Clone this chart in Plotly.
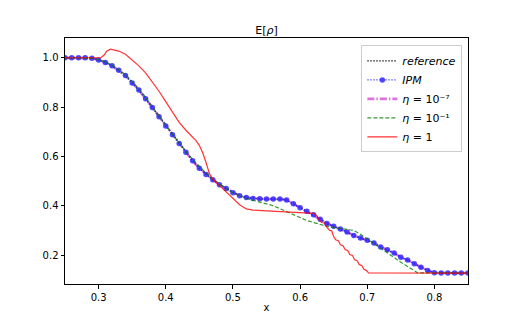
import plotly.graph_objects as go

# grid shared by reference / IPM / eta=1e-7 (one marker every 0.01)
x_grid = [0.25, 0.26, 0.27, 0.28, 0.29, 0.30, 0.31, 0.32, 0.33, 0.34,
          0.35, 0.36, 0.37, 0.38, 0.39, 0.40, 0.41, 0.42, 0.43, 0.44,
          0.45, 0.46, 0.47, 0.48, 0.49, 0.50, 0.51, 0.52, 0.53, 0.54,
          0.55, 0.56, 0.57, 0.58, 0.59, 0.60, 0.61, 0.62, 0.63, 0.64,
          0.65, 0.66, 0.67, 0.68, 0.69, 0.70, 0.71, 0.72, 0.73, 0.74,
          0.75, 0.76, 0.77, 0.78, 0.79, 0.80, 0.81, 0.82, 0.83, 0.84, 0.85]

rho_ipm = [1.0, 1.0, 1.0, 1.0, 0.998, 0.991, 0.981, 0.967, 0.949, 0.928,
           0.898, 0.869, 0.834, 0.798, 0.761, 0.723, 0.688, 0.652, 0.617, 0.582,
           0.552, 0.527, 0.505, 0.485, 0.470, 0.453, 0.440, 0.433, 0.429, 0.428,
           0.427, 0.427, 0.427, 0.423, 0.408, 0.392, 0.378, 0.363, 0.345, 0.328,
           0.317, 0.306, 0.293, 0.279, 0.269, 0.260, 0.249, 0.233, 0.221, 0.208,
           0.191, 0.180, 0.165, 0.151, 0.137, 0.128, 0.127, 0.127, 0.127, 0.127, 0.127]
rho_ref = rho_ipm
rho_eta7 = rho_ipm

x_eta1 = [0.25, 0.29, 0.30, 0.31, 0.32, 0.33, 0.34, 0.35, 0.36, 0.37,
          0.38, 0.39, 0.40, 0.41, 0.42, 0.43, 0.44, 0.45, 0.46, 0.47,
          0.48, 0.49, 0.50, 0.51, 0.52, 0.53, 0.54, 0.55, 0.56, 0.57,
          0.58, 0.59, 0.60, 0.61, 0.62, 0.63, 0.64, 0.65, 0.66, 0.67,
          0.68, 0.69, 0.70, 0.71, 0.72, 0.73, 0.74, 0.75, 0.76, 0.77,
          0.775, 0.85]
rho_eta1 = [1.0, 0.998, 0.992, 0.983, 0.970, 0.952, 0.932, 0.903, 0.874, 0.839,
            0.803, 0.765, 0.727, 0.690, 0.654, 0.620, 0.588, 0.558, 0.532, 0.508,
            0.488, 0.469, 0.452, 0.440, 0.430, 0.422, 0.415, 0.408, 0.400, 0.388,
            0.377, 0.365, 0.352, 0.340, 0.331, 0.323, 0.316, 0.311, 0.308, 0.306,
            0.300, 0.284, 0.265, 0.247, 0.228, 0.207, 0.188, 0.171, 0.154, 0.138,
            0.128, 0.127]

x_eta0 = [0.25, 0.303, 0.308, 0.312, 0.318, 0.33, 0.34, 0.35, 0.36, 0.37,
          0.38, 0.39, 0.40, 0.41, 0.42, 0.43, 0.44, 0.445, 0.45, 0.455,
          0.46, 0.465, 0.47, 0.48, 0.49, 0.50, 0.51, 0.52, 0.53, 0.55,
          0.58, 0.61, 0.62, 0.625, 0.628, 0.632, 0.636, 0.640, 0.644, 0.647,
          0.650, 0.653, 0.657, 0.660, 0.664, 0.667, 0.671, 0.674, 0.678, 0.681,
          0.685, 0.688, 0.692, 0.695, 0.699, 0.702, 0.85]
rho_eta0 = [1.0, 1.0, 1.01, 1.026, 1.035, 1.027, 1.014, 0.992, 0.967, 0.939,
            0.902, 0.864, 0.822, 0.779, 0.738, 0.706, 0.679, 0.664, 0.645, 0.615,
            0.575, 0.530, 0.508, 0.481, 0.454, 0.428, 0.404, 0.387, 0.382, 0.379,
            0.375, 0.372, 0.369, 0.360, 0.345, 0.332, 0.330, 0.312, 0.300, 0.298,
            0.275, 0.262, 0.258, 0.242, 0.238, 0.222, 0.218, 0.202, 0.198, 0.182,
            0.177, 0.162, 0.157, 0.142, 0.137, 0.128, 0.127]

fig = go.Figure()

fig.add_trace(go.Scatter(x=x_grid, y=rho_ref, mode='lines', name='<i>reference</i>',
                         line=dict(color='black', width=1.3, dash='1.3px,1.7px'), legendrank=1))
fig.add_trace(go.Scatter(x=x_grid, y=rho_eta7, mode='lines', name='<i>η</i> = 10⁻⁷',
                         line=dict(color='rgba(191,0,191,0.55)', width=2.6, dash='7px,2px,1.5px,2px'),
                         legendrank=3))
fig.add_trace(go.Scatter(x=x_grid, y=rho_ipm, mode='lines+markers', name='<i>IPM</i>',
                         line=dict(color='rgba(40,40,255,0.85)', width=1.3, dash='1.3px,1.7px'),
                         marker=dict(color='rgba(50,40,255,0.85)', size=5.5), legendrank=2))
fig.add_trace(go.Scatter(x=x_eta1, y=rho_eta1, mode='lines', name='<i>η</i> = 10⁻¹',
                         line=dict(color='rgba(0,128,0,0.8)', width=1.2, dash='4px,2px'),
                         legendrank=4))
fig.add_trace(go.Scatter(x=x_eta0, y=rho_eta0, mode='lines', name='<i>η</i> = 1',
                         line=dict(color='rgba(255,0,0,0.8)', width=1.2), legendrank=5))

axis_common = dict(showgrid=False, zeroline=False, showline=True, mirror=True,
                   linecolor='black', linewidth=1, ticks='outside', ticklen=3.5,
                   tickwidth=1, tickcolor='black',
                   tickfont=dict(family='DejaVu Sans', size=10, color='black'))

fig.update_layout(
    width=520, height=320,
    margin=dict(l=57, r=60, t=30, b=44),
    paper_bgcolor='white', plot_bgcolor='white',
    font=dict(family='DejaVu Sans', size=10, color='black'),
    title=dict(text='E[<i>ρ</i>]', xref='paper', x=0.5, xanchor='center',
               yref='paper', y=1, yanchor='bottom', pad=dict(b=4),
               font=dict(family='DejaVu Sans', size=11, color='black')),
    xaxis=dict(range=[0.25, 0.85], tickvals=[0.3, 0.4, 0.5, 0.6, 0.7, 0.8],
               ticktext=['0.3', '0.4', '0.5', '0.6', '0.7', '0.8'],
               title=dict(text='x', standoff=2, font=dict(family='DejaVu Sans', size=10)),
               **axis_common),
    yaxis=dict(range=[0.0826, 1.08], tickvals=[0.2, 0.4, 0.6, 0.8, 1.0],
               ticktext=['0.2', '0.4', '0.6', '0.8', '1.0'], **axis_common),
    legend=dict(x=0.986, xanchor='right', y=0.97, yanchor='top',
                bgcolor='rgba(255,255,255,0.8)', bordercolor='#cccccc', borderwidth=1,
                font=dict(family='DejaVu Sans', size=11), tracegroupgap=0,
                itemwidth=30),
    showlegend=True,
)

fig.write_html("out.html")
